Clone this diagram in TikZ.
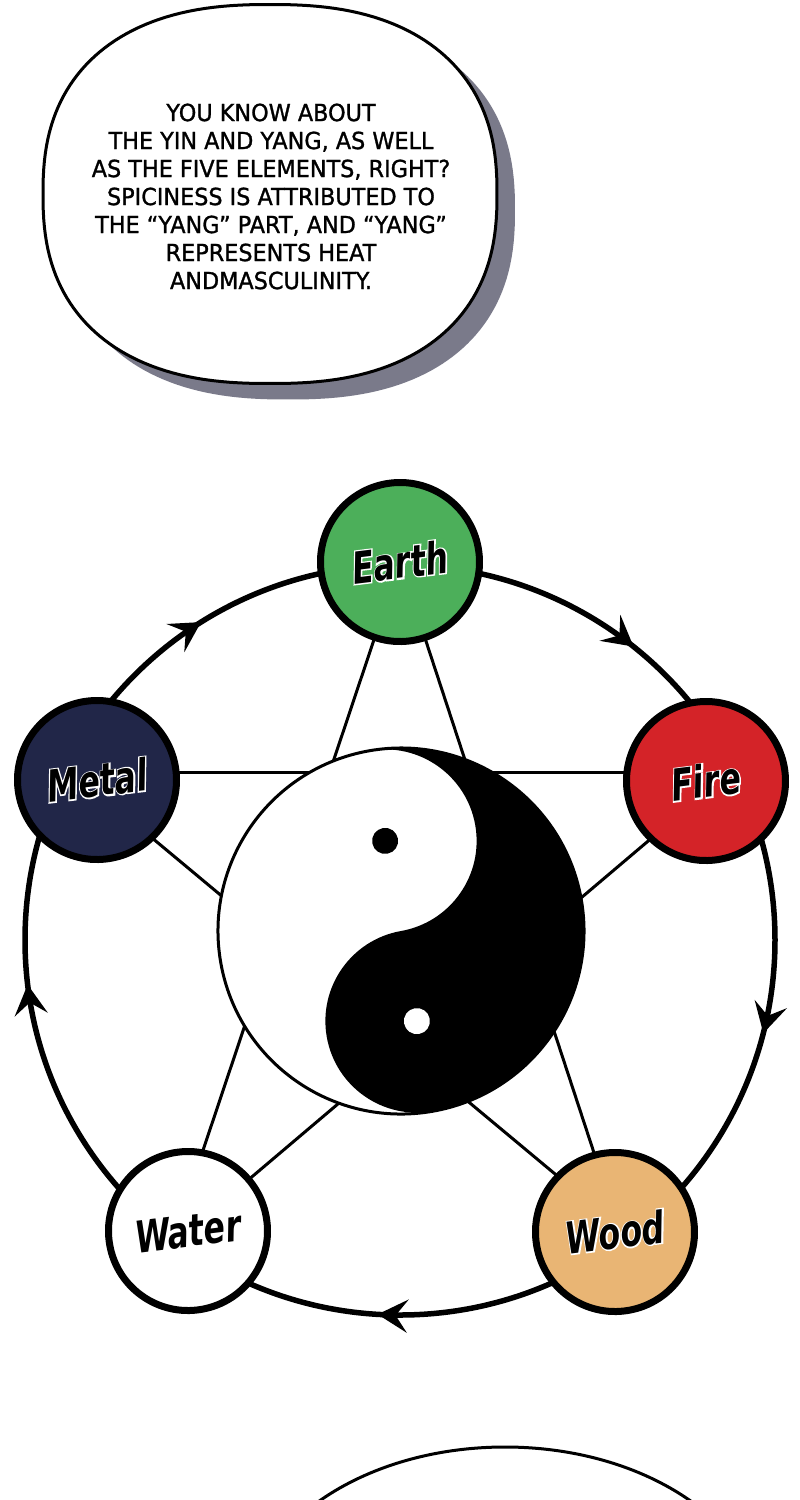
\documentclass[tikz,border=0pt]{standalone}
\usepackage{fontspec}
\usepackage{graphicx}
\setmainfont{DejaVu Sans}
\newfontfamily\bubfont{DejaVu Sans}[FakeStretch=0.95,FakeBold=1.2]
\newfontfamily\elfont{DejaVu Sans}[FakeStretch=0.72]
\newfontfamily\elhalo{DejaVu Sans}[FakeStretch=0.72,FakeBold=6]
\usetikzlibrary{arrows.meta,decorations.markings}
\pgfdeclarelayer{bg}
\pgfsetlayers{bg,main}
\definecolor{earthc}{RGB}{76,175,90}
\definecolor{firec}{RGB}{212,35,40}
\definecolor{metalc}{RGB}{33,38,72}
\definecolor{woodc}{RGB}{233,181,116}
\definecolor{shadowc}{RGB}{122,122,138}
\newcommand\eltxt[1]{\makebox[0pt]{\elhalo\bfseries\itshape\color{white}#1}\makebox[0pt]{\elfont\bfseries\itshape\color{black}#1}}
\newcommand\eltxtplain[1]{\makebox[0pt]{\elfont\bfseries\itshape\color{black}#1}}
\tikzset{
  elem/.style={circle, draw=black, line width=7pt, minimum size=159pt, inner sep=0pt,
    rotate=7, font=\fontsize{44}{44}\selectfont},
  starline/.style={line width=3pt, black},
  cyctip/.style={},
  ringline/.style={line width=5.5pt, black, postaction={decorate},
    decoration={markings,
      mark=at position 0.040 with {\arrow{Stealth[length=30pt,width=33pt,inset=12pt]}},
      mark=at position 0.2595 with {\arrow{Stealth[length=30pt,width=33pt,inset=12pt]}},
      mark=at position 0.481 with {\arrow{Stealth[length=30pt,width=33pt,inset=12pt]}},
      mark=at position 0.661 with {\arrow{Stealth[length=30pt,width=33pt,inset=12pt]}},
      mark=at position 0.857 with {\arrow{Stealth[length=30pt,width=33pt,inset=12pt]}}}},
  bubble/.style={line width=3pt, draw=black, fill=white}
}
\begin{document}
\begin{tikzpicture}[x=1pt,y=1pt]
\useasboundingbox (0,0) rectangle (800,-1500);
\clip (0,0) rectangle (800,-1500);

% top speech bubble
\fill[shadowc] plot[domain=1:361, samples=181]
  ({288+227*cos(\x)*pow(abs(cos(\x)),-0.17)}, {-210+189.5*sin(\x)*pow(abs(sin(\x)),-0.17)}) -- cycle;
\draw[bubble] plot[domain=1:361, samples=181]
  ({270+227*cos(\x)*pow(abs(cos(\x)),-0.17)}, {-194+189.5*sin(\x)*pow(abs(sin(\x)),-0.17)}) -- cycle;
\node[font=\bubfont\fontsize{23.5}{28}\selectfont, align=center, text=black] (btext) at (271,-196.5)
  {YOU KNOW ABOUT\\THE YIN AND YANG, AS WELL\\AS THE FIVE ELEMENTS, RIGHT?\\SPICINESS IS ATTRIBUTED TO\\THE “YANG” PART, AND “YANG”\\REPRESENTS HEAT\\ANDMASCULINITY.};

% element nodes
\node[elem, fill=earthc] (earth) at (400,-562) {\eltxt{Earth}};
\node[elem, fill=firec]  (fire)  at (706,-781) {\eltxt{Fire}};
\node[elem, fill=metalc] (metal) at (97,-780)  {\eltxt{Metal}};
\node[elem, fill=white]  (water) at (188,-1231) {\eltxtplain{Water}};
\node[elem, fill=woodc]  (wood)  at (615,-1232) {\eltxt{Wood}};
\coordinate (ringc) at (400,-940);
\node[circle, minimum size=366pt, inner sep=0pt] (yy) at (401,-931) {};

\begin{pgfonlayer}{bg}
  \fill[white] (0,0) rectangle (800,-1500);
  \draw[ringline] (ringc) ++(375,0) arc[start angle=0, end angle=-360, radius=375];
  \draw[starline] ([yshift=8pt]metal.center) -- ([yshift=9pt]fire.center);
  \draw[starline] (earth.center) -- ([xshift=-12pt]water.center);
  \draw[starline] (earth.center) -- ([xshift=5pt]wood.center);
  \draw[starline] ([yshift=-11pt]fire.center) -- (water.center);
  \draw[starline] ([yshift=-12pt]metal.center) -- ([yshift=8pt]wood.center);
\end{pgfonlayer}

% yin-yang
\begin{scope}[shift={(yy.center)}, rotate=10]
  \fill[white] (0,0) circle (183);
  \fill[black] (0,183) arc[start angle=90, end angle=-90, radius=183]
     arc[start angle=-90, end angle=-270, radius=91.5]
     arc[start angle=-90, end angle=90, radius=91.5] -- cycle;
  \fill[black] (0,91.5) circle (13);
  \fill[white] (0,-91.5) circle (13);
  \draw[line width=3pt] (0,0) circle (183);
\end{scope}

% bottom speech bubble (partly visible)
\draw[bubble] (505,-1627) ellipse [x radius=260, y radius=180];
\end{tikzpicture}
\end{document}
